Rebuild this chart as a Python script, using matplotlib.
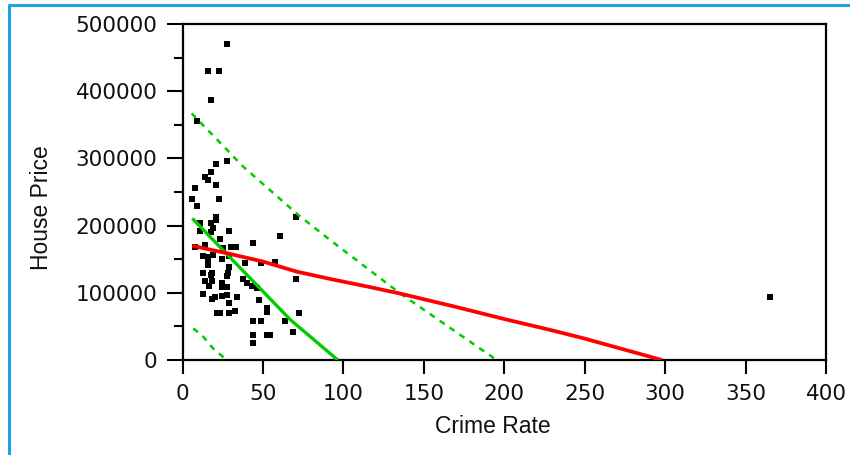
import matplotlib
matplotlib.use("Agg")
import matplotlib.pyplot as plt
from matplotlib.lines import Line2D
from matplotlib.ticker import MultipleLocator

# ---- data ----
crime_rate = [27.7, 15.8, 22.7, 17.7, 9.0, 27.7, 20.8, 17.5, 14.0, 15.8,
              20.8, 7.8, 22.7, 5.9, 9.0, 70.5, 20.8, 20.8, 10.9, 17.5,
              19.1, 10.9, 17.5, 28.7, 60.6, 23.3, 43.6, 14.0, 7.5, 30.1,
              33.1, 25.4, 12.6, 18.8, 16.0, 24.4, 28.9, 38.8, 48.8, 57.5,
              15.7, 12.9, 18.5, 29.1, 28.5, 27.5, 14.0, 18.1, 16.7, 37.8,
              39.9, 43.0, 46.5, 70.5, 24.7, 27.5, 12.6, 18.1, 20.2, 24.4,
              27.5, 29.1, 33.7, 47.5, 52.3, 52.7, 21.3, 23.3, 28.9, 32.6,
              72.4, 43.6, 48.6, 63.5, 68.7, 43.6, 52.3, 54.1, 43.6, 365.1,
              16.0, 17.7, 24.4]
house_price = [470200, 430000, 430000, 386900, 355600, 296100, 291600, 280200, 272700, 268300,
               260400, 255900, 239600, 239600, 228700, 213200, 213200, 208300, 204600, 204600,
               196900, 192400, 190000, 192400, 185000, 180000, 173400, 171100, 168600, 168600,
               168600, 166200, 154800, 156200, 148800, 149800, 154800, 143900, 143900, 145400,
               141400, 129900, 129900, 137900, 129900, 124800, 118000, 118000, 110100, 120100,
               114100, 110600, 106800, 120500, 114100, 109100, 98200, 90300, 94200, 95200,
               96700, 85300, 94200, 89300, 77800, 71900, 70400, 70400, 70400, 73400,
               70400, 58500, 58500, 58500, 42100, 37200, 37200, 37200, 25700, 93700,
               153700, 126500, 109100]

fit_x = [6.1, 18.1, 67.0, 96.5]
fit_y = [210800, 181000, 60000, 0]

upper_x = [5.7, 37.8, 72.0, 91.7, 135.2, 195.3]
upper_y = [367000, 287600, 215800, 178600, 99200, 0]

lower_x = [6.7, 12.9, 19.1, 27.5]
lower_y = [47100, 34700, 17000, 0]

smooth_x = [6.0, 27.5, 50.0, 71.0, 92.0, 116.5, 135.0, 170.0, 200.0, 229.0, 249.0, 298.0]
smooth_y = [170000, 159000, 146500, 131500, 120500, 108500, 99000, 79000, 61000, 44500, 32500, 0]

x_ticks = [0, 50, 100, 150, 200, 250, 300, 350, 400]
y_ticks = [0, 100000, 200000, 300000, 400000, 500000]

# ---- figure ----
W, H = 850, 455
fig = plt.figure(figsize=(W / 100, H / 100), dpi=100)
fig.patch.set_facecolor("white")

# blue frame lines (top and left)
blue = "#18a4e6"
fig.add_artist(Line2D([8 / W, 1.0], [1 - 5.3 / H, 1 - 5.3 / H], color=blue, lw=2.2,
                      transform=fig.transFigure, solid_capstyle="butt"))
fig.add_artist(Line2D([9 / W, 9 / W], [0.0, 1 - 4 / H], color=blue, lw=2.2,
                      transform=fig.transFigure, solid_capstyle="butt"))

ax = fig.add_axes([182.5 / W, 1 - 360 / H, 643.5 / W, 336 / H])

ax.plot(crime_rate, house_price, linestyle="none", marker="s", ms=4.6,
        mfc="black", mec="black", mew=0, zorder=2)

green = "#00cc00"
ax.plot(upper_x, upper_y, color=green, lw=1.8, ls=(0, (2.4, 2.4)), zorder=3)
ax.plot(lower_x, lower_y, color=green, lw=1.8, ls=(0, (2.4, 2.4)), zorder=3)
ax.plot(fit_x, fit_y, color=green, lw=2.4, zorder=3, solid_capstyle="butt")
ax.plot(smooth_x, smooth_y, color="#ff0000", lw=2.7, zorder=3, solid_capstyle="butt")

ax.set_xlim(0, 400)
ax.set_ylim(0, 500000)
ax.set_xticks(x_ticks)
ax.set_yticks(y_ticks)
ax.set_xticklabels([str(v) for v in x_ticks])
ax.set_yticklabels([str(v) for v in y_ticks])
ax.yaxis.set_minor_locator(MultipleLocator(50000))

for s in ax.spines.values():
    s.set_linewidth(1.6)
    s.set_color("black")

ax.tick_params(axis="y", which="major", direction="out", length=11.5, width=1.5, pad=6.5)
ax.tick_params(axis="y", which="minor", direction="out", length=6.5, width=1.5)
ax.tick_params(axis="x", which="major", direction="out", length=10, width=1.5, pad=7.0)
for lab in ax.get_xticklabels() + ax.get_yticklabels():
    lab.set_fontfamily(["DejaVu Sans"])
    lab.set_fontsize(15.5)
    lab.set_color("#111111")

ax.set_xlabel("Crime Rate", family=["Liberation Sans", "DejaVu Sans"], fontsize=16.5, color="#111111")
ax.set_ylabel("House Price", family=["Liberation Sans", "DejaVu Sans"], fontsize=16.5, color="#111111")
ax.xaxis.set_label_coords((493 - 182.5) / 643.5, (360 - 415) / 336)
ax.yaxis.set_label_coords((53 - 182.5) / 643.5, (360 - 208) / 336)

fig.savefig("out.png", dpi=100, facecolor="white")
